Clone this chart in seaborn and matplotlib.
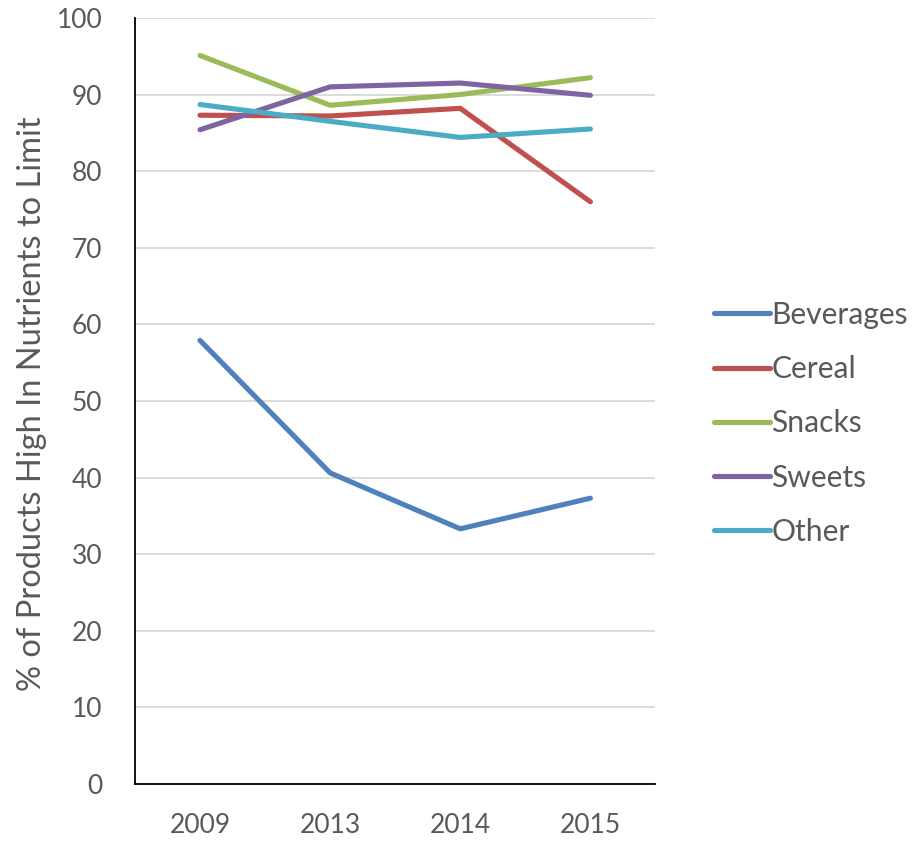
import matplotlib
matplotlib.use("Agg")
import matplotlib.pyplot as plt
import seaborn as sns
import pandas as pd

years = ["2009", "2013", "2014", "2015"]
beverages = [57.9, 40.6, 33.3, 37.3]
cereal = [87.3, 87.2, 88.2, 76.0]
snacks = [95.1, 88.6, 90.0, 92.2]
sweets = [85.4, 91.0, 91.5, 89.9]
other = [88.7, 86.5, 84.4, 85.5]

categories = ["Beverages", "Cereal", "Snacks", "Sweets", "Other"]
colors = ["#4f81bd", "#c0504d", "#9bbb59", "#8064a2", "#4bacc6"]
series = [beverages, cereal, snacks, sweets, other]

rows = []
for name, vals in zip(categories, series):
    for yr, v in zip(years, vals):
        rows.append({"Year": yr, "Value": v, "Category": name})
df = pd.DataFrame(rows)

sns.set_style("white")
plt.rcParams["font.family"] = ["Lato", "DejaVu Sans"]
text_color = "#595959"

fig = plt.figure(figsize=(9.18, 8.42), dpi=100)
ax = fig.add_axes([0.147, 0.069, 0.567, 0.9097])

sns.lineplot(data=df, x="Year", y="Value", hue="Category", hue_order=categories,
             palette=colors, linewidth=3.7, ax=ax, sort=False,
             solid_capstyle="round", solid_joinstyle="round")

ax.set_ylim(0, 100)
ax.set_xlim(-0.5, 3.5)
ax.set_yticks(range(0, 101, 10))
ax.yaxis.grid(True, color="#d9d9d9", linewidth=1.3)
ax.set_axisbelow(True)
for s in ["top", "right"]:
    ax.spines[s].set_visible(False)
ax.spines["left"].set_color("black")
ax.spines["left"].set_linewidth(1.3)
ax.spines["bottom"].set_color("black")
ax.spines["bottom"].set_linewidth(1.3)
ax.tick_params(axis="both", length=0, labelsize=19, colors=text_color)
ax.tick_params(axis="x", pad=21)
ax.tick_params(axis="y", pad=23.5)
ax.set_xlabel("")
ax.set_ylabel("% of Products High In Nutrients to Limit", fontsize=23.5,
              color=text_color)
ax.yaxis.set_label_coords(-0.169, 0.497)

leg = ax.legend(loc="center left", bbox_to_anchor=(1.06, 0.4707), frameon=False,
                fontsize=21.6, handlelength=1.87, handletextpad=0.05, labelspacing=0.875)
for t in leg.get_texts():
    t.set_color(text_color)
for h in leg.get_lines():
    h.set_linewidth(3.7)

fig.savefig("out.png", dpi=100)
